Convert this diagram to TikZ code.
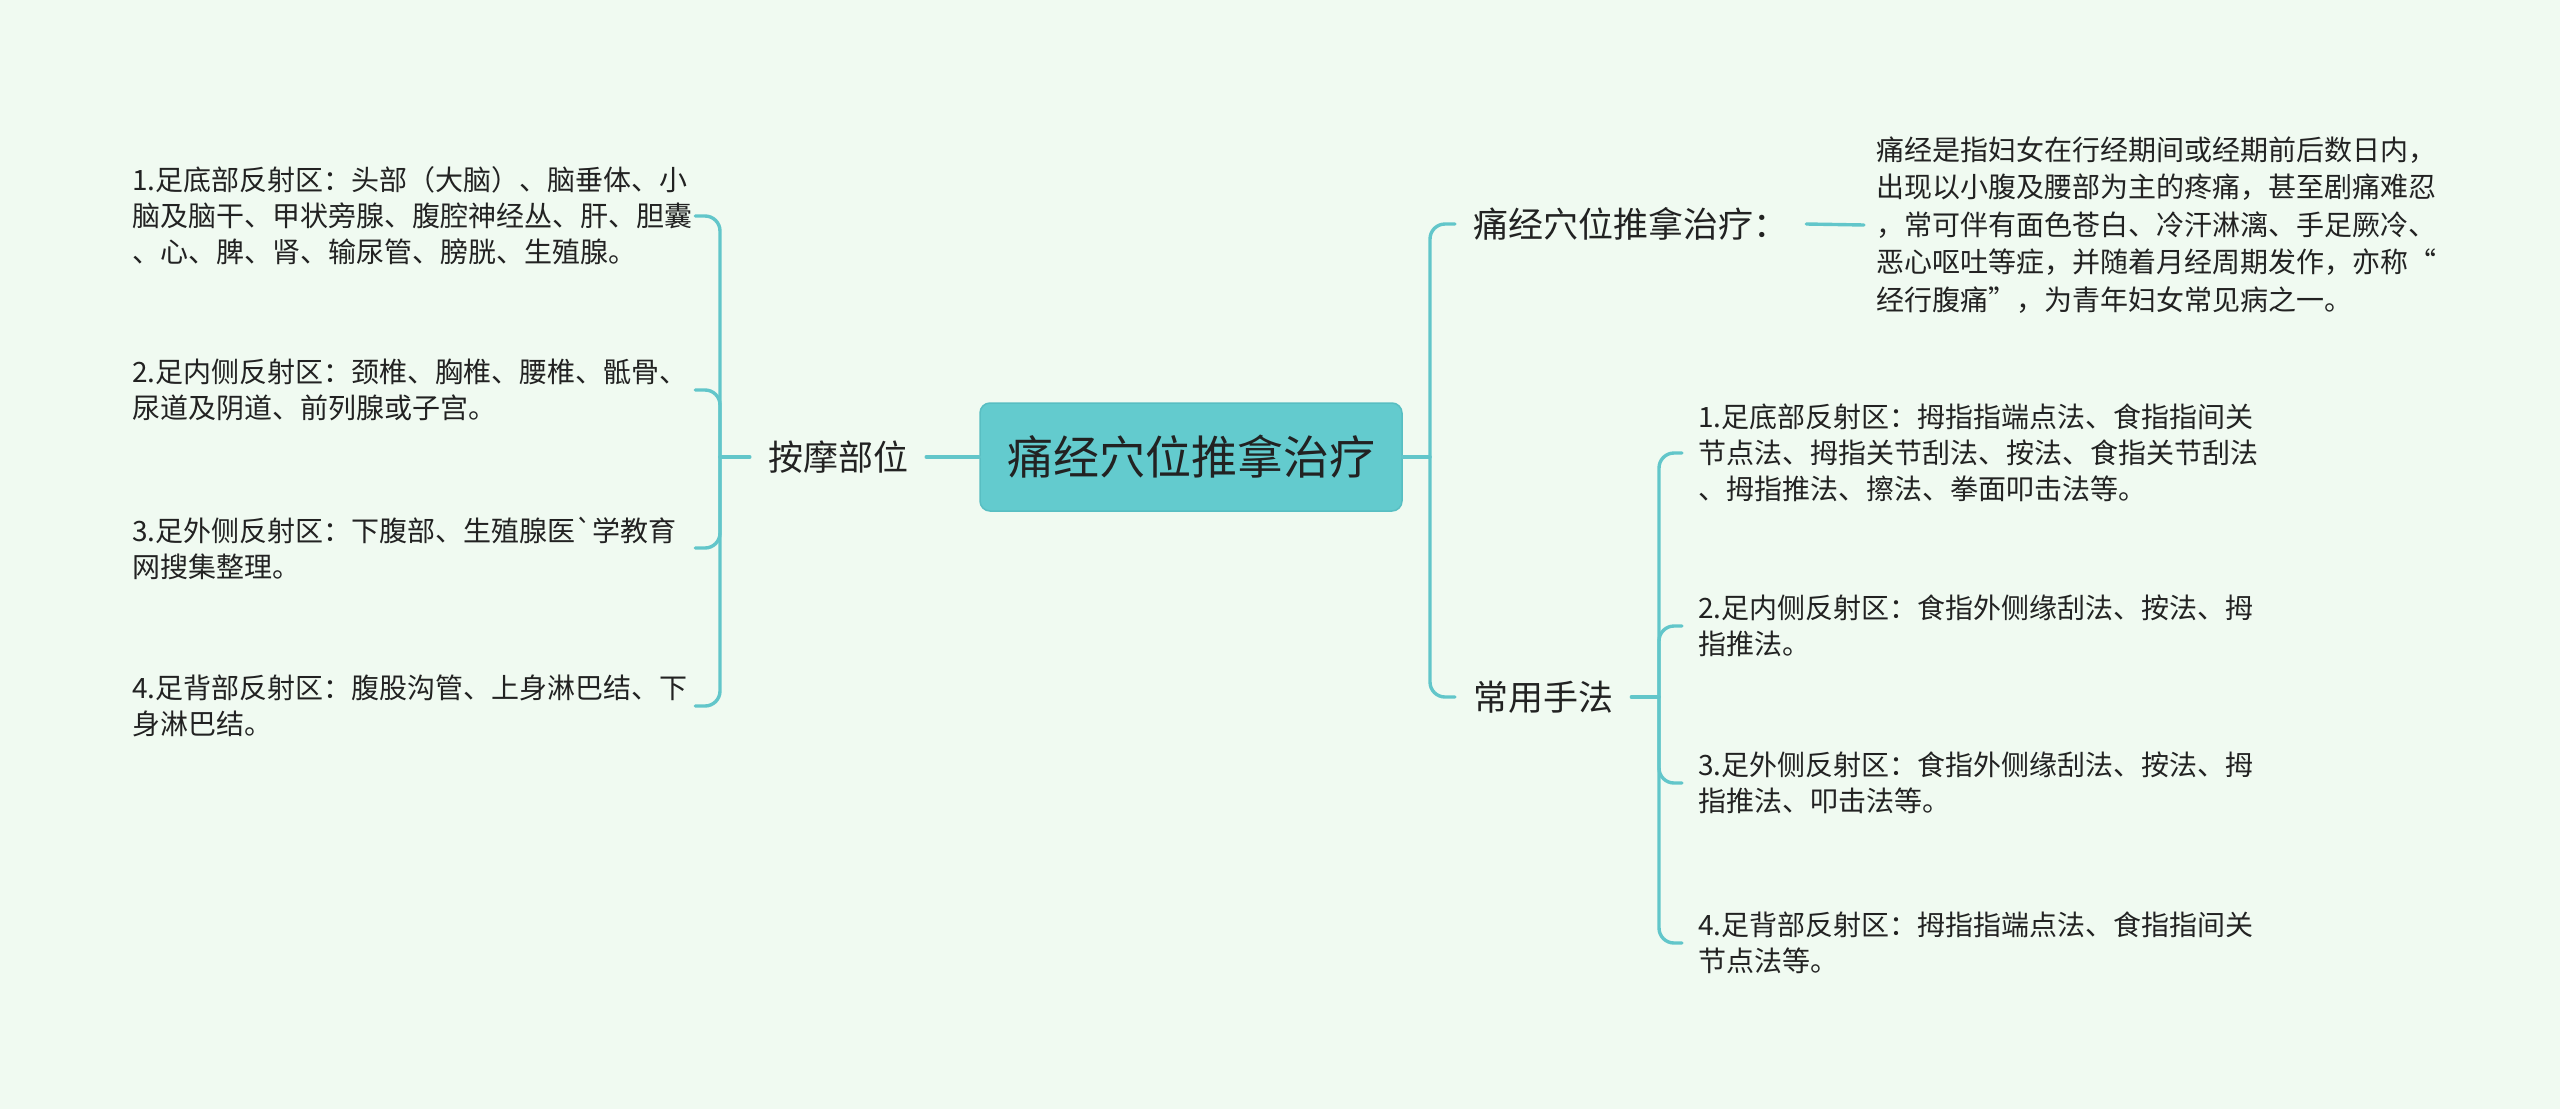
\documentclass[tikz,border=0pt]{standalone}
\usepackage{fontspec}
\newfontfamily\cjk{Noto Sans CJK SC}
\definecolor{bgc}{RGB}{240,250,241}
\definecolor{linec}{RGB}{98,198,202}
\definecolor{boxfill}{RGB}{99,203,206}
\definecolor{boxdraw}{RGB}{88,190,194}
\definecolor{txt}{RGB}{34,34,34}
\tikzset{
  conn/.style={draw=linec, line width=3.4pt, line cap=round, rounded corners=15pt},
  rootbox/.style={draw=boxdraw, line width=1.5pt, fill=boxfill, rounded corners=10pt,
    minimum width=422pt, minimum height=108pt, text=txt,
    font=\cjk\fontsize{46}{50}\selectfont},
  mainlabel/.style={text=txt, inner xsep=18pt, inner ysep=4pt,
    font=\cjk\fontsize{35}{40}\selectfont},
  leaftext/.style={text=txt, align=left, text width=556pt, inner xsep=7pt, inner ysep=0pt,
    font=\cjk\fontsize{28}{36}\selectfont},
  desctext/.style={text=txt, align=left, text width=570pt, inner xsep=12pt, inner ysep=0pt,
    font=\cjk\fontsize{28}{37.5}\selectfont},
}
\begin{document}
\begin{tikzpicture}[x=1pt,y=-1pt]
\useasboundingbox (0,0) rectangle (2560,1109);
\fill[bgc] (0,0) rectangle (2560,1109);

% root
\node[rootbox] (root) at (1191,457) {痛经穴位推拿治疗};

% left branch
\node[mainlabel] (amo) at (838,457) {按摩部位};
\coordinate (jl) at (720,457);

\node[leaftext, anchor=west] (l1) at (125,216) {1.足底部反射区：头部（大脑）、脑垂体、小\\脑及脑干、甲状旁腺、腹腔神经丛、肝、胆囊\\、心、脾、肾、输尿管、膀胱、生殖腺。};
\node[leaftext, anchor=west] (l2) at (125,390) {2.足内侧反射区：颈椎、胸椎、腰椎、骶骨、\\尿道及阴道、前列腺或子宫。};
\node[leaftext, anchor=west] (l3) at (125,548) {3.足外侧反射区：下腹部、生殖腺医`学教育\\网搜集整理。};
\node[leaftext, anchor=west] (l4) at (125,706) {4.足背部反射区：腹股沟管、上身淋巴结、下\\身淋巴结。};

\draw[conn] (root.west) -- (amo.east);
\draw[conn] (amo.west) -- (jl);
\draw[conn] (jl) |- (l1.east);
\draw[conn] (jl) |- (l2.east);
\draw[conn] (jl) |- (l3.east);
\draw[conn] (jl) |- (l4.east);

% right branch
\coordinate (jr) at (1430,457);
\node[mainlabel, anchor=west] (r1) at (1455,224) {痛经穴位推拿治疗：};
\node[mainlabel, anchor=west] (r2) at (1455,697) {常用手法};
\node[desctext, anchor=west] (desc) at (1864,225) {痛经是指妇女在行经期间或经期前后数日内，\\出现以小腹及腰部为主的疼痛，甚至剧痛难忍\\，常可伴有面色苍白、冷汗淋漓、手足厥冷、\\恶心呕吐等症，并随着月经周期发作，亦称“\\经行腹痛”，为青年妇女常见病之一。};

\draw[conn] (root.east) -- (jr);
\draw[conn] (jr) |- (r1.west);
\draw[conn] (jr) |- (r2.west);
\draw[conn] (r1.east) -- (desc.west);

\coordinate (jm) at (1659,697);
\node[leaftext, anchor=west, inner xsep=16pt] (m1) at (1682,453) {1.足底部反射区：拇指指端点法、食指指间关\\节点法、拇指关节刮法、按法、食指关节刮法\\、拇指推法、擦法、拳面叩击法等。};
\node[leaftext, anchor=west, inner xsep=16pt] (m2) at (1682,626) {2.足内侧反射区：食指外侧缘刮法、按法、拇\\指推法。};
\node[leaftext, anchor=west, inner xsep=16pt] (m3) at (1682,783) {3.足外侧反射区：食指外侧缘刮法、按法、拇\\指推法、叩击法等。};
\node[leaftext, anchor=west, inner xsep=16pt] (m4) at (1682,943) {4.足背部反射区：拇指指端点法、食指指间关\\节点法等。};

\draw[conn] (r2.east) -- (jm);
\draw[conn] (jm) |- (m1.west);
\draw[conn] (jm) |- (m2.west);
\draw[conn] (jm) |- (m3.west);
\draw[conn] (jm) |- (m4.west);
\end{tikzpicture}
\end{document}
